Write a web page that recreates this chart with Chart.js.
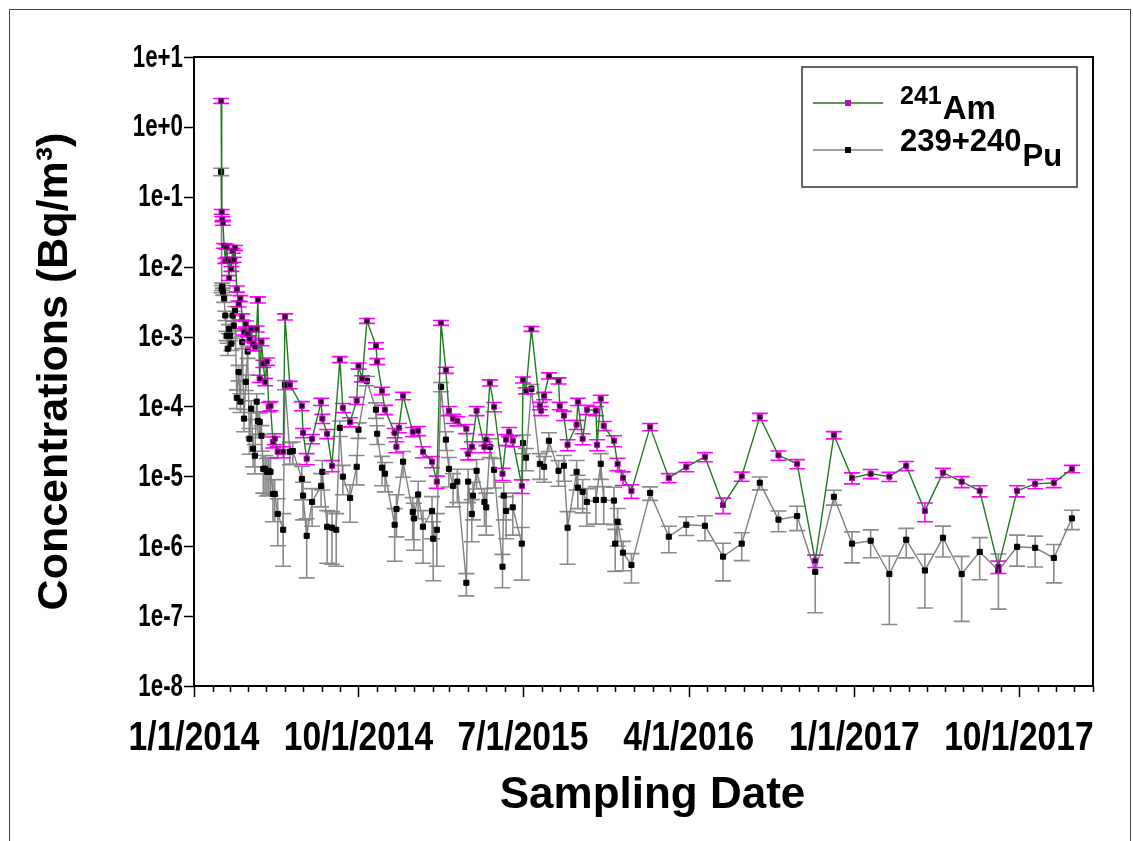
<!DOCTYPE html>
<html>
<head>
<meta charset="utf-8">
<script src="https://cdn.jsdelivr.net/npm/chart.js@4.4.1/dist/chart.umd.min.js"></script>
<style>
  body { margin: 0; background: #fff; }
  canvas { display: block; }
</style>
</head>
<body>
<canvas id="concChart" width="1133" height="841"></canvas>
<script>
// Air filter samples: one date list shared by both nuclides (null = no result)
const sampleDates = [
  '2014-02-15', '2014-02-16', '2014-02-17', '2014-02-18', '2014-02-20', '2014-02-22', '2014-02-24', '2014-02-26', '2014-02-28', '2014-03-02',
  '2014-03-04', '2014-03-06', '2014-03-08', '2014-03-10', '2014-03-13', '2014-03-16', '2014-03-19', '2014-03-22', '2014-03-25', '2014-03-28',
  '2014-03-31', '2014-04-03', '2014-04-06', '2014-04-09', '2014-04-12', '2014-04-15', '2014-04-17', '2014-04-20', '2014-04-23', '2014-04-26',
  '2014-04-29', '2014-05-02', '2014-05-05', '2014-05-08', '2014-05-12', '2014-05-15', '2014-05-20', '2014-05-29', '2014-06-01', '2014-06-09',
  '2014-06-14', '2014-06-29', '2014-07-01', '2014-07-07', '2014-07-16', '2014-07-31', '2014-08-02', '2014-08-10', '2014-08-18', '2014-08-25',
  '2014-08-31', '2014-09-05', '2014-09-17', '2014-09-28', '2014-10-01', '2014-10-07', '2014-10-15', '2014-10-30', '2014-11-01', '2014-11-09',
  '2014-11-14', '2014-11-30', '2014-12-03', '2014-12-07', '2014-12-14', '2014-12-30', '2015-01-01', '2015-01-08', '2015-01-16', '2015-01-31',
  '2015-02-02', '2015-02-08', '2015-02-15', '2015-02-23', '2015-02-28', '2015-03-07', '2015-03-14', '2015-03-29', '2015-04-01', '2015-04-07',
  '2015-04-09', '2015-04-15', '2015-04-28', '2015-05-01', '2015-05-07', '2015-05-14', '2015-05-28', '2015-05-30', '2015-06-03', '2015-06-08',
  '2015-06-14', '2015-06-29', '2015-07-01', '2015-07-06', '2015-07-15', '2015-07-29', '2015-07-31', '2015-08-05', '2015-08-13', '2015-08-29',
  '2015-08-31', '2015-09-07', '2015-09-13', '2015-09-28', '2015-09-30', '2015-10-08', '2015-10-15', '2015-10-30', '2015-11-01', '2015-11-07',
  '2015-11-12', '2015-11-29', '2015-12-01', '2015-12-05', '2015-12-14', '2015-12-28', '2016-01-28', '2016-02-28', '2016-03-28', '2016-04-28',
  '2016-05-28', '2016-06-28', '2016-07-28', '2016-08-28', '2016-09-28', '2016-10-28', '2016-11-28', '2016-12-28', '2017-01-28', '2017-02-28',
  '2017-03-28', '2017-04-28', '2017-05-28', '2017-06-28', '2017-07-28', '2017-08-28', '2017-09-28', '2017-10-28', '2017-11-28', '2017-12-28'
];

// 241Am, Bq/m3
const amValues = [
  2.36, 6.1e-2, 4.8e-2, 4.25e-2, 1.99e-2, 1.21e-2, 1.93e-2, 1.26e-2, 6.9e-3, 1.21e-2,
  9.3e-3, 1.69e-2, 1.26e-2, 1.86e-2, 4.8e-3, 2.94e-3, 3.5e-3, 1.92e-3, 1.17e-3, 1.52e-3,
  1.1e-3, 9.3e-4, 1.29e-3, 7.9e-4, 7.1e-4, 1.29e-3, 3.36e-3, 2.5e-4, 8.4e-4, 4.1e-4,
  2.25e-4, 4.4e-4, 9.9e-5, 1.02e-4, 3.1e-5, 3.45e-5, 2.25e-5, 2.25e-5, 1.92e-3, 2.04e-4,
  null, 1.02e-4, 4.2e-5, 1.79e-5, 3.45e-5, 1.17e-4, 6.7e-5, 4.07e-5, 1.42e-5, null,
  4.7e-4, 9.6e-5, 6.0e-5, 1.21e-4, 3.8e-4, 2.5e-4, 1.68e-3, 7.4e-4, 4.4e-4, 1.68e-4,
  9.0e-5, 4.2e-5, 2.65e-5, 4.95e-5, 1.42e-4, 4.35e-5, null, 4.5e-5, 2.25e-5, 1.62e-5,
  null, 8.4e-6, 1.57e-3, 3.3e-4, 8.7e-5, 6.7e-5, 6.2e-5, 4.8e-5, 2.1e-5, 2.65e-5,
  null, 8.7e-5, 2.65e-5, 3.35e-5, 2.18e-4, 9.9e-5, 1.09e-5, null, 3.35e-5, 4.35e-5,
  3.23e-5, 7.3e-6, 2.4e-4, 1.68e-4, 1.29e-3, 1.02e-4, 8.7e-5, 1.42e-4, 2.75e-4, 2.33e-4,
  1.02e-4, 7.4e-5, 2.83e-5, 5.5e-5, 1.17e-4, 3.45e-5, 9.0e-5, 8.7e-5, 2.83e-5, 1.29e-4,
  5.3e-5, 3.23e-5, null, 1.51e-5, 9.5e-6, 6.2e-6, 5.1e-5, 9.5e-6, 1.37e-5, 1.9e-5,
  3.9e-6, 1.0e-5, 7.1e-5, 2.0e-5, 1.51e-5, 6.2e-7, 3.9e-5, 9.5e-6, 1.09e-5, 9.9e-6,
  1.42e-5, 3.2e-6, 1.13e-5, 8.4e-6, 6.2e-6, 5.1e-7, 6.2e-6, 7.8e-6, 8.1e-6, 1.28e-5
];

// 239+240Pu, Bq/m3
const puValues = [
  0.228, 4.8e-3, 5.2e-3, 4.4e-3, 3.5e-3, 2.0e-3, 1.03e-3, 6.7e-4, 1.29e-3, 1.03e-3,
  7.9e-4, 2.0e-3, 1.43e-3, 2.34e-3, 1.33e-4, 3.1e-4, 1.17e-4, 8.4e-4, 6.7e-5, 2.25e-4,
  6.1e-4, 3.45e-5, 9.3e-5, 2.48e-5, 1.97e-5, 1.17e-4, 6.2e-5, 6.0e-5, 3.8e-5, 1.28e-5,
  1.28e-5, 1.16e-5, 1.2e-5, 1.16e-5, 5.6e-6, 5.6e-6, 2.9e-6, 1.72e-6, 2.04e-4, 2.25e-5,
  2.3e-5, 9.2e-6, 5.3e-6, 1.41e-6, 4.3e-6, 7.3e-6, 1.16e-5, 1.9e-6, 1.84e-6, 1.72e-6,
  4.95e-5, 9.9e-6, 4.9e-6, 1.37e-5, 4.65e-5, null, 2.33e-4, 9.0e-5, 4.07e-5, 1.33e-5,
  1.09e-5, 2.03e-6, 3.4e-6, null, 1.62e-5, 3.1e-6, 2.5e-6, 5.5e-6, 1.9e-6, 3.2e-6,
  1.28e-6, 1.72e-6, 1.91e-4, 3.35e-5, 1.28e-5, 7.3e-6, 8.4e-6, 3.0e-7, 8.4e-6, 2.9e-6,
  5.3e-6, 1.2e-5, 4.3e-6, 3.6e-6, 2.65e-5, 1.24e-5, 5.1e-7, 5.3e-6, 3.2e-6, null,
  3.6e-6, 1.09e-6, 3.0e-5, 1.85e-5, 1.79e-4, 1.51e-5, null, 1.37e-5, 3.23e-5, 1.2e-5,
  null, 1.42e-5, 1.84e-6, 1.16e-5, 6.9e-6, 6.0e-6, 4.3e-6, 4.6e-6, null, 1.51e-5,
  4.6e-6, 4.5e-6, 1.09e-6, 2.24e-6, 8.1e-7, 5.4e-7, 5.8e-6, 1.37e-6, 2.03e-6, 1.96e-6,
  7.1e-7, 1.09e-6, 8.1e-6, 2.4e-6, 2.7e-6, 4.3e-7, 5.1e-6, 1.09e-6, 1.2e-6, 4.0e-7,
  1.24e-6, 4.5e-7, 1.32e-6, 4.0e-7, 8.3e-7, 4.5e-7, 9.8e-7, 9.5e-7, 6.8e-7, 2.5e-6
];

// counting uncertainty, percent of value
const amErrPct = [
  8, 8, 8, 8, 8, 8, 8, 8, 8, 8,
  8, 8, 8, 8, 10, 10, 10, 10, 10, 10,
  10, 10, 10, 12, 12, 10, 10, 12, 12, 12,
  12, 12, 15, 15, 18, 18, 18, 18, 10, 12,
  0, 15, 15, 18, 15, 12, 15, 15, 18, 0,
  10, 15, 15, 12, 10, 10, 8, 10, 10, 12,
  15, 15, 18, 15, 12, 15, 0, 15, 18, 18,
  0, 20, 8, 10, 15, 15, 15, 15, 18, 18,
  0, 15, 18, 18, 10, 15, 20, 0, 18, 15,
  18, 22, 10, 10, 8, 12, 15, 12, 10, 10,
  12, 15, 18, 15, 12, 18, 15, 15, 18, 12,
  15, 18, 0, 20, 22, 22, 12, 15, 15, 15,
  25, 15, 12, 15, 15, 20, 12, 18, 15, 15,
  15, 30, 15, 18, 18, 20, 18, 15, 15, 12
];

const puErrPct = [
  12, 12, 12, 12, 12, 15, 15, 20, 15, 15,
  20, 15, 15, 15, 30, 25, 30, 20, 35, 25,
  20, 40, 30, 45, 45, 30, 35, 35, 40, 55,
  55, 55, 55, 55, 60, 60, 65, 70, 15, 35,
  35, 50, 55, 75, 55, 50, 45, 70, 70, 70,
  25, 45, 55, 45, 25, 0, 15, 25, 30, 45,
  45, 70, 60, 0, 40, 60, 65, 55, 70, 60,
  75, 70, 15, 30, 45, 50, 50, 35, 50, 60,
  55, 45, 55, 60, 30, 45, 50, 55, 60, 0,
  60, 70, 30, 35, 15, 40, 0, 40, 30, 40,
  0, 40, 70, 45, 50, 50, 55, 55, 0, 40,
  55, 55, 60, 55, 45, 45, 22, 41, 30, 39,
  55, 43, 21, 33, 38, 74, 24, 47, 43, 81,
  45, 71, 47, 79, 60, 72, 47, 47, 56, 31
];

const yTicks = [1e1, 1e0, 1e-1, 1e-2, 1e-3, 1e-4, 1e-5, 1e-6, 1e-7, 1e-8];
const xTickDates = ['2014-01-01', '2014-10-01', '2015-07-01', '2016-04-01', '2017-01-01', '2017-10-01'];
const xStart = '2014-01-01';
const xEnd = '2018-02-01';

const FONT = "'Liberation Sans', Arial, sans-serif";

function seriesPoints(values, errPct) {
  const pts = [];
  values.forEach((v, i) => {
    if (v === null) return;
    pts.push({ x: Date.parse(sampleDates[i]), y: v, err: v * errPct[i] / 100 });
  });
  return pts;
}

function dateLabel(ms) {
  const d = new Date(ms);
  return (d.getUTCMonth() + 1) + '/' + d.getUTCDate() + '/' + d.getUTCFullYear();
}

// text squeezed horizontally, stands in for a narrow bold face
function narrowText(ctx, text, x, y, size, squeeze, align, baseline) {
  ctx.save();
  ctx.translate(x, y);
  ctx.scale(squeeze, 1);
  ctx.font = 'bold ' + size + 'px ' + FONT;
  ctx.textAlign = align;
  ctx.textBaseline = baseline;
  ctx.fillText(text, 0, 0);
  ctx.restore();
}

// vertical error bars with caps, drawn under each dataset's own line
const errorBars = {
  id: 'errorBars',
  beforeDatasetDraw(chart, args) {
    const ds = chart.data.datasets[args.index];
    const { ctx, chartArea: a, scales: { x, y } } = chart;
    ctx.save();
    ctx.beginPath();
    ctx.rect(a.left, a.top, a.right - a.left, a.bottom - a.top);
    ctx.clip();
    ctx.strokeStyle = ds.errorColor;
    ctx.lineWidth = 1.6;
    ctx.beginPath();
    ds.data.forEach(p => {
      const px = x.getPixelForValue(p.x);
      const yHi = y.getPixelForValue(p.y + p.err);
      const yLo = y.getPixelForValue(Math.max(p.y - p.err, 1e-9));
      ctx.moveTo(px, yHi); ctx.lineTo(px, yLo);
      ctx.moveTo(px - 8, yHi); ctx.lineTo(px + 8, yHi);
      ctx.moveTo(px - 8, yLo); ctx.lineTo(px + 8, yLo);
    });
    ctx.stroke();
    ctx.restore();
  }
};

// plot box, outward tick marks, tick labels, date axis title, figure border
const plotFrame = {
  id: 'plotFrame',
  afterDraw(chart) {
    const { ctx, chartArea: a, scales: { x, y } } = chart;
    const majors = xTickDates.map(Date.parse);
    ctx.save();
    ctx.strokeStyle = '#000';
    ctx.lineWidth = 2;
    ctx.strokeRect(a.left, a.top, a.right - a.left, a.bottom - a.top);
    ctx.lineWidth = 1.5;
    ctx.beginPath();
    for (let yr = 2014; yr <= 2018; yr++) {
      for (let m = 0; m < 12; m++) {
        const t = Date.UTC(yr, m, 1);
        if (t < x.min || t > x.max) continue;
        const px = Math.round(x.getPixelForValue(t)) + 0.5;
        const len = majors.includes(t) ? 11 : 6;
        ctx.moveTo(px, a.bottom);
        ctx.lineTo(px, a.bottom + len);
      }
    }
    yTicks.forEach(v => {
      const py = Math.round(y.getPixelForValue(v)) + 0.5;
      ctx.moveTo(a.left - 10, py);
      ctx.lineTo(a.left, py);
    });
    ctx.stroke();

    ctx.fillStyle = '#000';
    x.ticks.forEach(t => {
      narrowText(ctx, dateLabel(t.value), x.getPixelForValue(t.value), a.bottom + 64, 40, 0.84, 'center', 'alphabetic');
    });
    y.ticks.forEach(t => {
      narrowText(ctx, Number(t.value).toExponential(0), a.left - 11, y.getPixelForValue(t.value) + 1, 31, 0.72, 'right', 'middle');
    });

    ctx.font = 'bold 44px ' + FONT;
    ctx.textAlign = 'center';
    ctx.textBaseline = 'alphabetic';
    ctx.fillText('Sampling Date', (a.left + a.right) / 2 + 9, a.bottom + 122);

    ctx.lineWidth = 1;
    ctx.strokeStyle = '#444';
    ctx.strokeRect(9.5, 9.5, 1121, 840);
    ctx.restore();
  }
};

// boxed legend with the mass numbers set above the element symbols
const isotopeLegend = {
  id: 'isotopeLegend',
  afterDraw(chart) {
    const ctx = chart.ctx;
    const box = { left: 802, top: 67, width: 275, height: 120 };
    ctx.save();
    ctx.strokeStyle = '#333';
    ctx.lineWidth = 1.5;
    ctx.strokeRect(box.left, box.top, box.width, box.height);

    const rows = [
      { mass: '241', sym: 'Am', line: '#1f7a1f', marker: '#b010b0', y: 103, massSize: 25, symSize: 33 },
      { mass: '239+240', sym: 'Pu', line: '#808080', marker: '#000', y: 150, massSize: 31, symSize: 31 }
    ];
    rows.forEach(r => {
      ctx.strokeStyle = r.line;
      ctx.lineWidth = 1.5;
      ctx.beginPath();
      ctx.moveTo(box.left + 11, r.y);
      ctx.lineTo(box.left + 81, r.y);
      ctx.stroke();
      ctx.fillStyle = r.marker;
      ctx.fillRect(box.left + 43, r.y - 3, 6, 6);

      ctx.fillStyle = '#000';
      ctx.textBaseline = 'alphabetic';
      ctx.textAlign = 'left';
      ctx.font = 'bold ' + r.massSize + 'px ' + FONT;
      ctx.fillText(r.mass, box.left + 98, r.y + 1);
      const w = ctx.measureText(r.mass).width;
      ctx.font = 'bold ' + r.symSize + 'px ' + FONT;
      ctx.fillText(r.sym, box.left + 98 + w + 1, r.y + 16);
    });
    ctx.restore();
  }
};

const ctx = document.getElementById('concChart').getContext('2d');
const chart = new Chart(ctx, {
  type: 'line',
  data: {
    datasets: [
      {
        label: '241Am',
        data: seriesPoints(amValues, amErrPct),
        borderColor: '#1f7a1f',
        borderWidth: 1.4,
        errorColor: '#ff00ff',
        pointStyle: 'rect',
        pointRadius: 3.6,
        pointBackgroundColor: '#2a002a',
        pointBorderColor: '#c000c0',
        pointBorderWidth: 1,
        tension: 0
      },
      {
        label: '239+240Pu',
        data: seriesPoints(puValues, puErrPct),
        borderColor: '#808080',
        borderWidth: 1.4,
        errorColor: '#8a8a8a',
        pointStyle: 'rect',
        pointRadius: 3.6,
        pointBackgroundColor: '#000',
        pointBorderColor: '#000',
        pointBorderWidth: 1,
        tension: 0
      }
    ]
  },
  options: {
    responsive: false,
    animation: false,
    layout: { padding: { left: 9, right: 40, top: 57, bottom: 0 } },
    plugins: {
      legend: { display: false },
      tooltip: { enabled: false }
    },
    scales: {
      x: {
        type: 'linear',
        min: Date.parse(xStart),
        max: Date.parse(xEnd),
        border: { display: false },
        grid: { display: false, drawTicks: false },
        afterBuildTicks: scale => {
          scale.ticks = xTickDates.map(d => ({ value: Date.parse(d) }));
        },
        ticks: { display: false },
        afterFit: scale => { scale.height = 155; }
      },
      y: {
        type: 'logarithmic',
        min: 1e-8,
        max: 1e1,
        border: { display: false },
        grid: { display: false, drawTicks: false },
        afterBuildTicks: scale => {
          scale.ticks = yTicks.map(v => ({ value: v }));
        },
        ticks: { display: false },
        title: {
          display: true,
          text: 'Concentrations (Bq/m³)',
          color: '#000',
          font: { family: FONT, weight: 'bold', size: 43 },
          padding: { top: 20, bottom: 0 }
        },
        afterFit: scale => { scale.width = 185; }
      }
    }
  },
  plugins: [errorBars, plotFrame, isotopeLegend]
});
</script>
</body>
</html>
